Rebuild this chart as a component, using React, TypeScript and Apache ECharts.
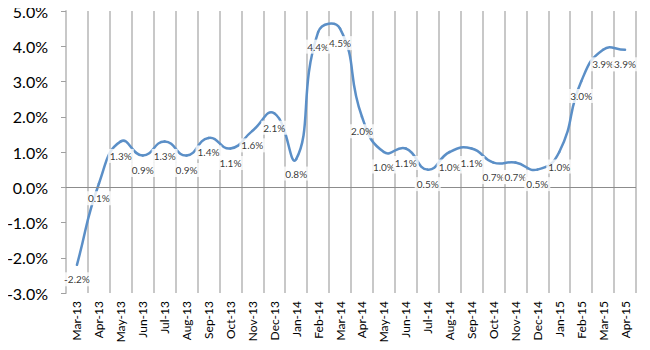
import React, { useEffect, useRef } from "react";
import * as echarts from "echarts";

const categories = [
  "Mar-13", "Apr-13", "May-13", "Jun-13", "Jul-13", "Aug-13", "Sep-13", "Oct-13", "Nov-13", "Dec-13",
  "Jan-14", "Feb-14", "Mar-14", "Apr-14", "May-14", "Jun-14", "Jul-14", "Aug-14", "Sep-14", "Oct-14",
  "Nov-14", "Dec-14", "Jan-15", "Feb-15", "Mar-15", "Apr-15",
];
const values = [
  -2.2, 0.1, 1.3, 0.9, 1.3, 0.9, 1.4, 1.1, 1.6, 2.1,
  0.8, 4.4, 4.5, 2.0, 1.0, 1.1, 0.5, 1.0, 1.1, 0.7,
  0.7, 0.5, 1.0, 3.0, 3.9, 3.9,
];
const yMin = -3;
const yMax = 5;
const yStep = 1;

const LINE_COLOR = "#5b8fc7";

function renderSegment(params: any, api: any) {
  const i = params.dataIndex;
  const n = values.length;
  if (i >= n - 1) return null;
  const P = (j: number) => {
    const k = Math.max(0, Math.min(n - 1, j));
    return api.coord([k, values[k]]);
  };
  const p0 = P(i - 1);
  const p1 = P(i);
  const p2 = P(i + 1);
  const p3 = P(i + 2);
  const dist = (a: number[], b: number[]) => Math.hypot(b[0] - a[0], b[1] - a[1]);
  const d01 = dist(p0, p1);
  const d12 = dist(p1, p2);
  const d23 = dist(p2, p3);
  const t = 0.5;
  const f1 = d01 + d12 > 0 ? (t * d12) / (d01 + d12) : 0;
  const f2 = d12 + d23 > 0 ? (t * d12) / (d12 + d23) : 0;
  const cp1 = [p1[0] + (p2[0] - p0[0]) * f1, p1[1] + (p2[1] - p0[1]) * f1];
  const cp2 = [p2[0] - (p3[0] - p1[0]) * f2, p2[1] - (p3[1] - p1[1]) * f2];
  return {
    type: "bezierCurve",
    shape: {
      x1: p1[0], y1: p1[1], x2: p2[0], y2: p2[1],
      cpx1: cp1[0], cpy1: cp1[1], cpx2: cp2[0], cpy2: cp2[1],
    },
    style: { stroke: LINE_COLOR, lineWidth: 2.5, fill: "none", lineCap: "round" },
  };
}

export default function App() {
  const ref = useRef<HTMLDivElement>(null);
  useEffect(() => {
    if (!ref.current) return;
    const chart = echarts.init(ref.current, null, { renderer: "svg" });
    const pts = values.map((v, i) => [i, v]);
    chart.setOption({
      animation: false,
      backgroundColor: "#ffffff",
      grid: { left: 66, right: 14, top: 11, bottom: 57 },
      xAxis: {
        type: "category",
        data: categories,
        boundaryGap: true,
        axisLine: { show: false, onZero: false },
        axisTick: { show: false },
        splitLine: { show: true, lineStyle: { color: "#c8c8c8", width: 2 } },
        axisLabel: {
          rotate: 90,
          margin: 8,
          interval: 0,
          color: "#000",
          fontFamily: "Lato",
          fontSize: 12,
        },
      },
      yAxis: {
        type: "value",
        min: yMin,
        max: yMax,
        interval: yStep,
        axisLine: { show: true, lineStyle: { color: "#c8c8c8", width: 2 } },
        axisTick: { show: true, length: 5, lineStyle: { color: "#a0a0a0" } },
        splitLine: { show: false },
        axisLabel: {
          margin: 18,
          color: "#000",
          fontFamily: "Lato",
          fontSize: 16,
          formatter: (v: number) => v.toFixed(1) + "%",
        },
      },
      series: [
        {
          type: "line",
          data: values,
          showSymbol: false,
          lineStyle: { opacity: 0, width: 0 },
          z: 1,
          silent: true,
          markLine: {
            silent: true,
            symbol: "none",
            label: { show: false },
            lineStyle: { color: "#8c8c8c", width: 1, type: "solid" },
            data: [{ yAxis: 0 }],
          },
        },
        {
          type: "custom",
          data: pts,
          encode: { x: 0, y: 1 },
          renderItem: renderSegment,
          z: 3,
          silent: true,
        },
        {
          type: "scatter",
          data: pts,
          symbol: "circle",
          symbolSize: 1,
          itemStyle: { color: "rgba(0,0,0,0)" },
          z: 5,
          label: {
            show: true,
            position: "bottom",
            distance: 7,
            formatter: (p: any) => p.value[1].toFixed(1) + "%",
            color: "#000",
            fontFamily: "Lato",
            fontSize: 10,
            backgroundColor: "#ffffff",
            padding: [2, 2, 2, 2],
          },
        },
      ],
    });
    return () => chart.dispose();
  }, []);
  return <div ref={ref} style={{ width: 650, height: 350, margin: -8 }} />;
}
